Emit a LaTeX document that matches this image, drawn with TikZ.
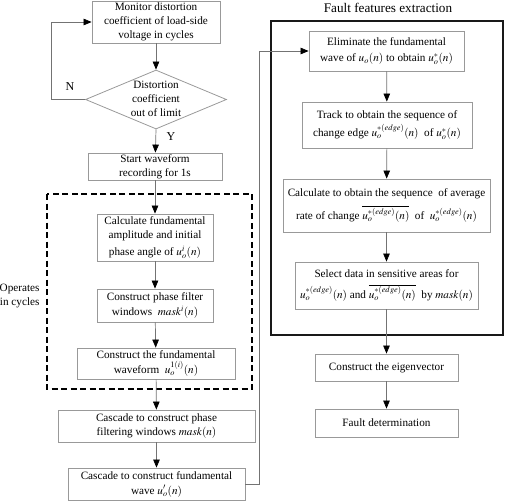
\documentclass[tikz,border=0pt]{standalone}
\usepackage{mathptmx}
\usepackage{fontspec}
\setmainfont{Liberation Serif}
\usetikzlibrary{arrows.meta,shapes.geometric}
\begin{document}
\begin{tikzpicture}[x=1pt,y=-1pt,
  font=\fontsize{11.2}{14}\selectfont,
  box/.style={draw=black!40, line width=0.8pt, align=center, inner sep=0.5pt},
  arr/.style={draw=black!55, line width=0.7pt, -{Triangle[length=8pt,width=6.5pt,color=black]}},
  plain/.style={draw=black!55, line width=0.7pt}]
\useasboundingbox (0,0) rectangle (505,501);

% outer frames
\draw[black, line width=1.1pt, dash pattern=on 6pt off 3.5pt] (47,194) rectangle (252,389);
\draw[black!90, line width=1.3pt] (271,21) rectangle (503,335);
\node[font=\fontsize{13.2}{15}\selectfont] (title) at (388,8) {Fault features extraction};

% left column
\node[box, minimum width=128pt, minimum height=42pt] (b1) at (156,22)
  {Monitor distortion\\coefficient of load-side\\voltage in cycles};
\node[draw=black!40, line width=0.8pt, shape=diamond, inner sep=0pt,
  minimum width=141pt, minimum height=59pt] (d) at (156,99.5) {};
\node[align=center] (dt) at (156,98.5) {Distortion\\coefficient\\out of limit};
\node[box, minimum width=134pt, minimum height=27pt] (b2) at (155,166.5)
  {Start waveform\\recording for 1s};
\node[box, minimum width=116pt, minimum height=47pt] (b3) at (155,237.5)
  {Calculate fundamental\\amplitude and initial\\[3pt]phase angle of $u_o^{i}(n)$};
\node[box, minimum width=116pt, minimum height=33pt] (b4) at (155,305.5)
  {Construct phase filter\\[1pt]windows \ $mask^{i}(n)$};
\node[box, minimum width=158pt, minimum height=31pt] (b5) at (156,363.5)
  {Construct the fundamental\\[1pt]waveform \ $u_o^{1(i)}(n)$};
\node[box, minimum width=197pt, minimum height=32pt] (b6) at (156.5,426)
  {Cascade to construct phase\\filtering windows $mask(n)$};
\node[box, minimum width=177pt, minimum height=32pt] (b7) at (156.5,484)
  {Cascade to construct fundamental\\[1pt]wave $u_o'(n)$};
\node[align=right, anchor=east] (ops) at (43,296) {Operates\\in cycles};
\node[font=\fontsize{12}{13}\selectfont] (lN) at (70,87) {N};
\node[font=\fontsize{12}{13}\selectfont] (lY) at (171,137) {Y};

% right column
\node[box, minimum width=155pt, minimum height=40pt] (r1) at (386.5,51)
  {Eliminate the fundamental\\[2pt]wave of $u_o(n)$ to obtain $u_o^{*}(n)$};
\node[box, minimum width=170pt, minimum height=46pt] (r2) at (387,125)
  {Track to obtain the sequence of\\[3pt]change edge $u_o^{*(edge)}(n)$ \ of $u_o^{*}(n)$};
\node[box, minimum width=207pt, minimum height=53pt] (r3) at (386.5,205.5)
  {Calculate to obtain the sequence \ of average\\[6pt]rate of change $\overline{u_o^{*(edge)}(n)}$ \ of \ $u_o^{*(edge)}(n)$};
\node[box, minimum width=183pt, minimum height=47pt] (r4) at (386.5,285.5)
  {Select data in sensitive areas for\\[6pt]$u_o^{*(edge)}(n)$ and $\overline{u_o^{*(edge)}(n)}$ \ by $mask(n)$};
\node[box, minimum width=143pt, minimum height=27pt] (r5) at (386.5,367.5)
  {Construct the eigenvector};
\node[box, minimum width=143pt, minimum height=28pt] (r6) at (386.5,423)
  {Fault determination};

% connectors
\draw[arr] (b1) -- (d.north);
\draw[arr] (d.south) -- (b2);
\draw[arr] (d.west) -- ++(-34,0) |- (b1.west);
\draw[arr] (b2) -- (b3);
\draw[arr] (b3) -- (b4);
\draw[arr] (b4) -- (b5);
\draw[arr] (b5) -- (b6);
\draw[arr] (b6) -- (b7);
\draw[arr] (b7.east) -- ++(14,0) |- (r1.west);
\draw[arr] (r1) -- (r2);
\draw[arr] (r2) -- (r3);
\draw[arr] (r3) -- (r4);
\draw[arr] (r4) -- (r5);
\draw[arr] (r5) -- (r6);
\end{tikzpicture}
\end{document}
